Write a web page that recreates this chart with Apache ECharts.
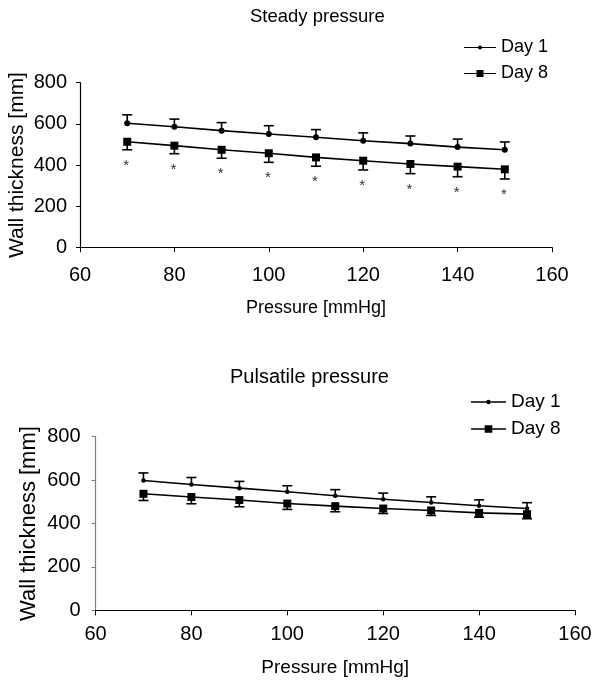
<!DOCTYPE html>
<html>
<head>
<meta charset="utf-8">
<script src="https://cdn.jsdelivr.net/npm/echarts@6/dist/echarts.min.js"></script>
<style>
  html, body { margin: 0; padding: 0; background: #fff; }
  #chart { width: 593px; height: 686px; }
</style>
</head>
<body>
<div id="chart"></div>
<script>
// Wall thickness vs. pressure, day 1 and day 8 (mean with one-sided SD bars)
const pressures = [70, 80, 90, 100, 110, 120, 130, 140, 150];

// Steady pressure
const steadyDay1 = [603, 586, 567, 551, 535, 518, 504, 487, 474];
const steadyDay1Sd = [41, 37, 39, 40, 37, 38, 37, 39, 38];
const steadyDay8 = [513, 494, 474, 457, 437, 421, 405, 392, 379];
const steadyDay8Sd = [39, 39, 41, 44, 43, 45, 47, 49, 47];
const steadySignificant = [true, true, true, true, true, true, true, true, true];

// Pulsatile pressure
const pulsDay1 = [598, 580, 563, 546, 528, 512, 497, 482, 469];
const pulsDay1Sd = [35, 32, 31, 28, 28, 28, 26, 27, 27];
const pulsDay8 = [537, 522, 508, 492, 480, 469, 460, 449, 443];
const pulsDay8Sd = [31, 31, 31, 27, 26, 23, 23, 20, 21];

// Axis ranges
const xRange = [60, 160, 20];
const yRange = [0, 800, 200];

const seriesNames = ['Day 1', 'Day 8'];
const chartTitles = ['Steady pressure', 'Pulsatile pressure'];
const xName = 'Pressure [mmHg]';
const yName = 'Wall thickness [mm]';

const FONT = "'Liberation Sans', Arial, Helvetica, sans-serif";

// Legend glyphs: a thin line with a small dot / a square in the middle
const ICON_DOT = 'path://M0,3.4H32V4.6H0Z M14,4a2,2 0 1,1 4,0a2,2 0 1,1 -4,0Z';
const ICON_SQUARE = 'path://M0,3.4H32V4.6H0Z M12.5,0.5H19.5V7.5H12.5Z';

const pairs = (ys) => pressures.map((p, i) => [p, ys[i]]);
const errUp = (ys, sd) => pressures.map((p, i) => [p, ys[i], ys[i] + sd[i]]);
const errDown = (ys, sd) => pressures.map((p, i) => [p, ys[i], ys[i] - sd[i]]);

function renderErrorBar(params, api) {
  const x = api.value(0);
  const from = api.coord([x, api.value(1)]);
  const to = api.coord([x, api.value(2)]);
  const half = 5;
  const style = { stroke: '#000', lineWidth: 1.6 };
  return {
    type: 'group',
    children: [
      { type: 'line', shape: { x1: from[0], y1: from[1], x2: to[0], y2: to[1] }, style },
      { type: 'line', shape: { x1: to[0] - half, y1: to[1], x2: to[0] + half, y2: to[1] }, style }
    ]
  };
}

function renderStar(params, api) {
  const pt = api.coord([api.value(0), api.value(1)]);
  return {
    type: 'text',
    style: {
      text: '*',
      x: pt[0] - 1,
      y: pt[1] + 16,
      align: 'center',
      verticalAlign: 'middle',
      fill: '#333',
      font: '15px ' + FONT
    }
  };
}

function xAxisOf(gridIndex, labelMargin, nameGap, nameSize) {
  return {
    type: 'value', gridIndex,
    min: xRange[0], max: xRange[1], interval: xRange[2],
    axisLine: { show: true, onZero: false, lineStyle: { color: '#000', width: 1.2 } },
    axisTick: { show: true, length: 5, lineStyle: { color: '#000', width: 1 } },
    splitLine: { show: false },
    axisLabel: { fontSize: 20, color: '#000', fontFamily: FONT, margin: labelMargin },
    name: xName, nameLocation: 'middle', nameGap, nameMoveOverlap: false,
    nameTextStyle: { fontSize: nameSize, color: '#000', fontFamily: FONT }
  };
}

function yAxisOf(gridIndex, lineColor, labelMargin, nameGap, nameSize) {
  return {
    type: 'value', gridIndex,
    min: yRange[0], max: yRange[1], interval: yRange[2],
    axisLine: { show: true, lineStyle: { color: lineColor, width: 1.2 } },
    axisTick: { show: true, length: 4, lineStyle: { color: lineColor, width: 1 } },
    splitLine: { show: false },
    axisLabel: { fontSize: 20, color: '#000', fontFamily: FONT, margin: labelMargin },
    name: yName, nameLocation: 'middle', nameGap, nameRotate: 90, nameMoveOverlap: false,
    nameTextStyle: { fontSize: nameSize, color: '#000', fontFamily: FONT }
  };
}

function lineSeries(name, idx, data, symbol, size) {
  return {
    name, type: 'line', xAxisIndex: idx, yAxisIndex: idx,
    data, symbol, symbolSize: size, showSymbol: true,
    lineStyle: { color: '#000', width: 1.6 },
    itemStyle: { color: '#000' },
    z: 3, animation: false
  };
}

function errSeries(name, idx, data) {
  return {
    name, type: 'custom', xAxisIndex: idx, yAxisIndex: idx,
    data, renderItem: renderErrorBar,
    encode: { x: 0, y: [1, 2] }, z: 2, animation: false, silent: true
  };
}

const steadyStars = errDown(steadyDay8, steadyDay8Sd)
  .filter((d, i) => steadySignificant[i])
  .map(d => [d[0], d[2]]);

const legendData = [
  { name: seriesNames[0], icon: ICON_DOT },
  { name: seriesNames[1], icon: ICON_SQUARE }
];

const chart = echarts.init(document.getElementById('chart'), null, { renderer: 'canvas' });

chart.setOption({
  backgroundColor: '#fff',
  animation: false,
  textStyle: { fontFamily: FONT },
  title: [
    { text: chartTitles[0], left: 250, top: 7.5, padding: 0,
      textStyle: { fontSize: 18.5, fontWeight: 'normal', color: '#000', fontFamily: FONT } },
    { text: chartTitles[1], left: 230, top: 367, padding: 0,
      textStyle: { fontSize: 20, fontWeight: 'normal', color: '#000', fontFamily: FONT } }
  ],
  legend: [
    { orient: 'vertical', left: 464, top: 38.5, padding: 0,
      itemWidth: 32, itemHeight: 8, itemGap: 8, itemTextGap: 3, data: legendData,
      textStyle: { fontSize: 18, color: '#000', fontFamily: FONT } },
    { orient: 'vertical', left: 471, top: 392.5, padding: 0,
      itemWidth: 35, itemHeight: 8, itemGap: 8, itemTextGap: 2, data: legendData,
      textStyle: { fontSize: 19, color: '#000', fontFamily: FONT } }
  ],
  grid: [
    { left: 80, top: 82.7, width: 472, height: 164.6, outerBoundsMode: 'none', containLabel: false },
    { left: 95.5, top: 436.7, width: 479.5, height: 173.6, outerBoundsMode: 'none', containLabel: false }
  ],
  xAxis: [xAxisOf(0, 18, 52, 18), xAxisOf(1, 14, 48, 19)],
  yAxis: [yAxisOf(0, '#000', 13, 52, 21), yAxisOf(1, '#808080', 15, 56, 22)],
  series: [
    errSeries('Day 1 SD (steady)', 0, errUp(steadyDay1, steadyDay1Sd)),
    errSeries('Day 8 SD (steady)', 0, errDown(steadyDay8, steadyDay8Sd)),
    lineSeries(seriesNames[0], 0, pairs(steadyDay1), 'circle', 6),
    lineSeries(seriesNames[1], 0, pairs(steadyDay8), 'rect', 8),
    {
      name: 'p < 0.05', type: 'custom', xAxisIndex: 0, yAxisIndex: 0,
      data: steadyStars, renderItem: renderStar, encode: { x: 0, y: 1 },
      animation: false, silent: true
    },
    errSeries('Day 1 SD (pulsatile)', 1, errUp(pulsDay1, pulsDay1Sd)),
    errSeries('Day 8 SD (pulsatile)', 1, errDown(pulsDay8, pulsDay8Sd)),
    lineSeries(seriesNames[0], 1, pairs(pulsDay1), 'circle', 4.5),
    lineSeries(seriesNames[1], 1, pairs(pulsDay8), 'rect', 8)
  ]
});
</script>
</body>
</html>
